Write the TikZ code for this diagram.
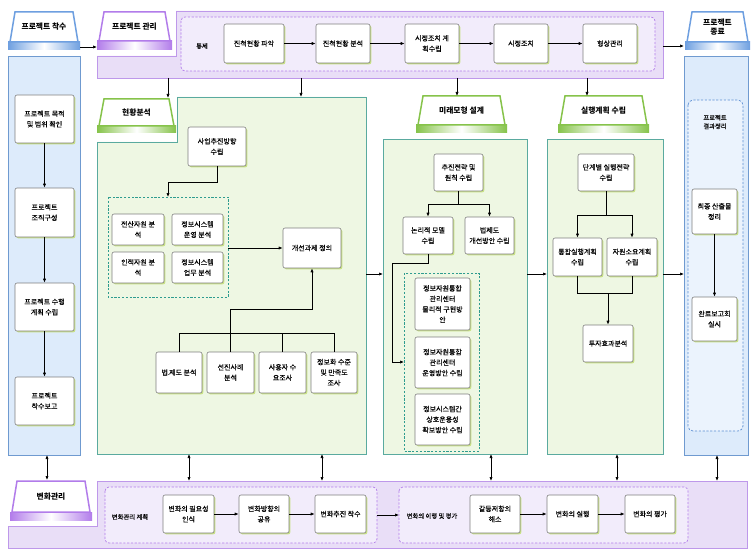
\documentclass[tikz,border=0pt]{standalone}
\usepackage{fontspec}
\setmainfont{Noto Sans CJK KR}
\newfontfamily\boxf{Noto Sans CJK KR}[FakeBold=0.15]
\newfontfamily\dotf{DejaVu Sans}
\usetikzlibrary{arrows.meta,calc,shadows}
\definecolor{boxgray}{HTML}{7F7F7F}
\definecolor{shadowgreen}{HTML}{C8E184}
\definecolor{purpleborder}{HTML}{BE98EA}
\definecolor{purplefill}{HTML}{E9DEF7}
\definecolor{purplelight}{HTML}{F2ECFB}
\definecolor{purpletab}{HTML}{B27CEA}
\definecolor{bluetab}{HTML}{6E9FE0}
\definecolor{blueborder}{HTML}{6F9AD0}
\definecolor{bluefill}{HTML}{DDEBFB}
\definecolor{bluelight}{HTML}{EBF3FD}
\definecolor{bluedash}{HTML}{5D8FD3}
\definecolor{greentab}{HTML}{86C34A}
\definecolor{greenborder}{HTML}{5AAA9F}
\definecolor{greenfill}{HTML}{EEF7E3}
\definecolor{greendash}{HTML}{2E9C8F}
\newcommand{\drawtab}[8]{%
  \shade[left color=#7, right color=#7, middle color=white] (#2,#5) rectangle (#3,#6);
  \draw[#7, line width=1.5pt, fill=white, line join=miter] (#2+2,#5) -- (#2+7,#4) -- (#3-7,#4) -- (#3-2,#5) -- cycle;
  \node[tabtext] (#1) at ({(#2+#3)/2},{(#4+#5)/2}) {#8};}
\newcommand{\bx}[6]{%
  \pgfmathsetmacro\bxw{#4-#2}\pgfmathsetmacro\bxh{#5-#3}%
  \pgfmathsetmacro\bxcx{(#2+#4)/2}\pgfmathsetmacro\bxcy{(#3+#5)/2}%
  \node[box, minimum width=\bxw pt, minimum height=\bxh pt] (#1) at (\bxcx,\bxcy) {#6};}
\begin{document}
\begin{tikzpicture}[x=1pt,y=-1pt,
  box/.style={draw=boxgray, line width=0.6pt, fill=white, rounded corners=2pt, align=center,
    font=\boxf\fontsize{7}{10.5}\selectfont, inner sep=1pt,
    drop shadow={shadow xshift=1.3pt, shadow yshift=-1.3pt, fill=shadowgreen, opacity=1}},
  arr/.style={-{Latex[length=4pt,width=3.2pt]}, line width=0.7pt},
  darr/.style={{Latex[length=4pt,width=3.2pt]}-{Latex[length=4pt,width=3.2pt]}, line width=0.7pt},
  conn/.style={line width=0.7pt},
  tabtext/.style={font=\fontsize{7.8}{9.5}\selectfont\bfseries, align=center, inner sep=0pt},
  lbl/.style={font=\boxf\fontsize{6.3}{8.5}\selectfont, align=center, inner sep=0pt},
  dashp/.style={dash pattern=on 2.2pt off 1.6pt, line width=0.7pt}]
\useasboundingbox (0,0) rectangle (754,556);
\fill[white] (0,0) rectangle (754,556);
% panels
\draw[purpleborder, line width=0.9pt, fill=purplefill] (176,11) -- (663,11) -- (663,78) -- (97,78) -- (97,56) -- (176,56) -- cycle;
\draw[purpletab, dashp, fill=purplelight, rounded corners=4pt] (181,17) rectangle (655,71);
\draw[blueborder, line width=0.9pt, fill=bluefill] (8,56) rectangle (80,455);
\draw[blueborder, line width=0.9pt, fill=bluefill] (684,56) rectangle (748,455);
\draw[bluedash, dashp, fill=bluelight, rounded corners=5pt] (688,100) rectangle (743,431);
\draw[greenborder, line width=0.9pt, fill=greenfill] (177,97) -- (366,97) -- (366,454) -- (97,454) -- (97,142) -- (177,142) -- cycle;
\draw[greenborder, line width=0.9pt, fill=greenfill] (383,139) rectangle (527,454);
\draw[greenborder, line width=0.9pt, fill=greenfill] (547,139) rectangle (663,454);
\draw[greendash, dashp] (108,197) rectangle (228,297);
\draw[greendash, dashp] (404,273) rectangle (479,451);
\draw[purpleborder, line width=0.9pt, fill=purplefill] (97,481) -- (747,481) -- (747,548) -- (8,548) -- (8,526) -- (97,526) -- cycle;
\draw[purpletab, dashp, fill=purplelight, rounded corners=4pt] (105,487) rectangle (377,543);
\draw[purpletab, dashp, fill=purplelight, rounded corners=4pt] (399,487) rectangle (688,543);
% tabs
\drawtab{tStart}{8}{80}{12}{42}{50}{bluetab}{프로젝트 착수}
\drawtab{tMgmt}{97}{172}{12}{41}{50}{purpletab}{프로젝트 관리}
\drawtab{tEnd}{685}{750}{12}{42}{50}{bluetab}{프로젝트\\종료}
\drawtab{tCur}{97}{176}{99}{126}{133}{greentab}{현황분석}
\drawtab{tFut}{416}{507}{96}{125}{133}{greentab}{미래모형 설계}
\drawtab{tExe}{558}{649}{96}{125}{133}{greentab}{실행계획 수립}
\drawtab{tChg}{10}{92}{481}{512}{520}{purpletab}{변화관리}
% labels
\node[lbl] (lCtrl) at (202,46) {통제};
\node[lbl] (lChg1) at (130,517) {변화관리 계획};
\node[lbl] (lChg2) at (432,516) {변화의 이행 및 평가};
\node[lbl] (lRes) at (715,122) {프로젝트\\결과정리};
% top boxes
\bx{A1}{224}{24}{284}{63}{진척현황 파악}
\bx{A2}{316}{24}{370}{63}{진척현황 분석}
\bx{A3}{405}{24}{459}{63}{시정조치 계\\획수립}
\bx{A4}{494}{24}{548}{63}{시정조치}
\bx{A5}{583}{24}{637}{63}{형상관리}
% left column
\bx{L1}{15}{95}{74}{143}{프로젝트 목적\\및 범위 확인}
\bx{L2}{15}{188}{74}{237}{프로젝트\\조직구성}
\bx{L3}{15}{283}{74}{331}{프로젝트 수행\\계획 수립}
\bx{L4}{15}{377}{74}{425}{프로젝트\\착수보고}
% panel 1
\bx{P1a}{188}{127}{246}{166}{사업추진방향\\수립}
\bx{P1b}{112}{214}{164}{245}{전산자원 분\\석}
\bx{P1c}{172}{214}{223}{245}{정보시스템\\운영 분석}
\bx{P1d}{112}{252}{164}{283}{인적자원 분\\석}
\bx{P1e}{172}{252}{223}{283}{정보시스템\\업무 분석}
\bx{P1f}{283}{228}{341}{268}{개선과제 정의}
\bx{P1g}{156}{352}{202}{393}{법{\dotf\kern-0.5pt.\kern-0.5pt}제도 분석}
\bx{P1h}{207}{352}{254}{393}{선진사례\\분석}
\bx{P1i}{259}{352}{306}{393}{사용자 수\\요조사}
\bx{P1j}{311}{352}{357}{393}{정보화 수준\\및 만족도\\조사}
% panel 2
\bx{P2a}{434}{154}{483}{191}{추진전략 및\\원칙 수립}
\bx{P2b}{403}{217}{453}{254}{논리적 모델\\수립}
\bx{P2c}{465}{217}{514}{254}{법제도\\개선방안 수립}
\bx{P2d}{415}{278}{470}{330}{정보자원통합\\관리센터\\물리적 구현방\\안}
\bx{P2e}{415}{337}{470}{388}{정보자원통합\\관리센터\\운영방안 수립}
\bx{P2f}{415}{394}{470}{445}{정보시스템간\\상호운용성\\확보방안 수립}
% panel 3
\bx{P3a}{578}{154}{634}{191}{단계별 실행전략\\수립}
\bx{P3b}{553}{238}{602}{276}{통합실행계획\\수립}
\bx{P3c}{607}{238}{657}{276}{자원소요계획\\수립}
\bx{P3d}{583}{325}{633}{362}{투자효과분석}
% right column
\bx{R1}{692}{189}{737}{234}{최종 산출물\\정리}
\bx{R2}{692}{297}{737}{341}{완료보고회\\실시}
% bottom
\bx{B1}{163}{495}{214}{533}{변화의 필요성\\인식}
\bx{B2}{239}{495}{289}{533}{변화방향의\\공유}
\bx{B3}{315}{495}{366}{533}{변화추진 착수}
\bx{B4}{470}{495}{520}{533}{갈등저항의\\해소}
\bx{B5}{547}{495}{598}{533}{변화의 실행}
\bx{B6}{625}{495}{675}{533}{변화의 평가}
% coordinates
\coordinate (s1) at (80,47); \coordinate (s2) at (97,47);
\coordinate (m1) at (663,46); \coordinate (m2) at (684,46);
\coordinate (d1a) at (168,78); \coordinate (d1b) at (168,98);
\coordinate (d2a) at (301,78); \coordinate (d2b) at (301,97);
\coordinate (d3a) at (457,78); \coordinate (d3b) at (457,96);
\coordinate (d4a) at (587,78); \coordinate (d4b) at (587,96);
\coordinate (g1top) at (168,197); \coordinate (g1r) at (228,248);
\coordinate (p1r) at (366,274); \coordinate (p2l) at (383,274);
\coordinate (p2r) at (527,274); \coordinate (p3l) at (547,274);
\coordinate (p3r) at (663,274); \coordinate (rcl) at (684,274);
\coordinate (g2in) at (404,362);
\coordinate (j3) at (608,293);
\coordinate (bg1) at (377,515); \coordinate (bg2) at (399,515);
% connectors
\draw[arr] (s1) -- (s2);
\draw[arr] (m1) -- (m2);
\draw[arr] (A1) -- (A2);
\draw[arr] (A2) -- (A3);
\draw[arr] (A3) -- (A4);
\draw[arr] (A4) -- (A5);
\draw[arr] (d1a) -- (d1b);
\draw[arr] (d2a) -- (d2b);
\draw[arr] (d3a) -- (d3b);
\draw[arr] (d4a) -- (d4b);
\draw[arr] (L1) -- (L2);
\draw[arr] (L2) -- (L3);
\draw[arr] (L3) -- (L4);
\draw[arr] (P1a.south) -- ++(0,16) -| (g1top);
\draw[arr] (g1r) -- (P1f.west |- g1r);
\draw[conn] (P1g.north) -- ++(0,-18) -| (P1j.north);
\draw[conn] (P1i.north) -- ++(0,-18);
\draw[arr] (P1h.north) -- ++(0,-42) -| (P1f.south);
\draw[arr] (p1r) -- (p2l);
\draw[arr] (p2r) -- (p3l);
\draw[arr] (p3r) -- (rcl);
\draw[arr] (P2a.south) -- ++(0,13) -| (P2b.north);
\draw[arr] (P2a.south) -- ++(0,13) -| (P2c.north);
\draw[arr] (P2b.south) -- ++(0,9) -- ++(-36,0) |- (g2in);
\draw[arr] (P3a.south) -- ++(0,24) -| (P3b.north);
\draw[arr] (P3a.south) -- ++(0,24) -| (P3c.north);
\draw[conn] (P3b.south) -- ++(0,17) -| (P3c.south);
\draw[arr] (j3) -- (P3d.north);
\draw[arr] (R1) -- (R2);
\draw[arr] (B1) -- (B2);
\draw[arr] (B2) -- (B3);
\draw[arr] (bg1) -- (bg2);
\draw[arr] (B4) -- (B5);
\draw[arr] (B5) -- (B6);
% double arrows
\coordinate (u1a) at (47,455); \coordinate (u1b) at (47,480);
\coordinate (u2a) at (189,454); \coordinate (u2b) at (189,481);
\coordinate (u3a) at (322,454); \coordinate (u3b) at (322,481);
\coordinate (u4a) at (491,454); \coordinate (u4b) at (491,481);
\coordinate (u5a) at (617,454); \coordinate (u5b) at (617,481);
\coordinate (u6a) at (717,455); \coordinate (u6b) at (717,481);
\draw[darr] (u1a) -- (u1b);
\draw[darr] (u2a) -- (u2b);
\draw[darr] (u3a) -- (u3b);
\draw[darr] (u4a) -- (u4b);
\draw[darr] (u5a) -- (u5b);
\draw[darr] (u6a) -- (u6b);
\end{tikzpicture}
\end{document}
